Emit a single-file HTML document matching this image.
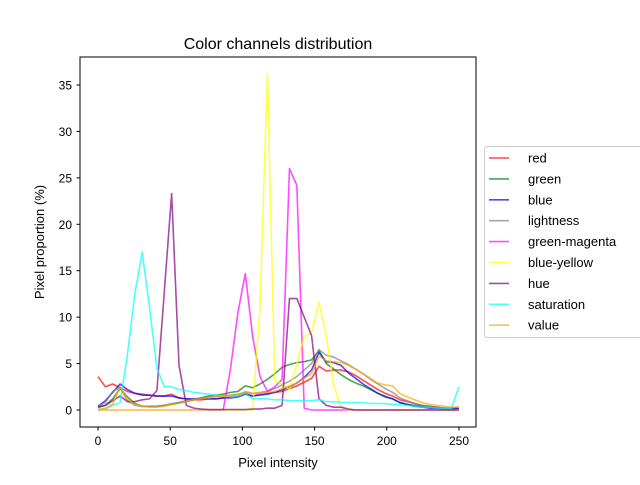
<!DOCTYPE html>
<html><head><meta charset="utf-8"><style>
body{margin:0;background:#fff;}
svg{font-family:"Liberation Sans","DejaVu Sans",sans-serif;}
</style></head><body>
<svg id="chart" width="640" height="480" viewBox="0 0 640 480" xmlns="http://www.w3.org/2000/svg">
<rect width="640" height="480" fill="#fff"/>
<text x="278" y="49" font-size="16" text-anchor="middle">Color channels distribution</text>
<g id="plot"></g>
<rect x="80" y="57" width="396" height="370" fill="none" stroke="#000" stroke-width="1"/>
<text x="278" y="467" font-size="13" text-anchor="middle">Pixel intensity</text>
<text x="44" y="242" font-size="13" text-anchor="middle" transform="rotate(-90 44 242)">Pixel proportion (%)</text>
<g id="legend"></g>
</svg>
<script>
const xTicks=[0,50,100,150,200,250];
const yTicks=[0,5,10,15,20,25,30,35];
const xStep=5.1;
const seriesNames=["red","green","blue","lightness","green-magenta","blue-yellow","hue","saturation","value"];
const seriesColors=["red","green","blue","gray","magenta","yellow","purple","cyan","orange"];
const red=[3.6,2.5,2.8,2.4,2.0,1.8,1.7,1.6,1.5,1.5,1.7,1.3,1.2,1.1,1.1,1.2,1.2,1.3,1.4,1.5,1.8,1.5,1.7,1.8,1.9,2.0,2.3,2.6,3.0,3.4,4.7,4.2,4.3,4.3,4.1,3.7,3.2,2.7,2.2,1.8,1.5,1.1,0.9,0.7,0.5,0.4,0.3,0.2,0.2,0.2];
const green=[0.3,0.5,1.2,2.3,1.4,0.7,0.4,0.4,0.4,0.5,0.6,0.8,0.9,1.1,1.3,1.5,1.6,1.7,1.9,2.0,2.6,2.4,2.8,3.3,3.9,4.6,4.9,5.1,5.2,5.4,6.4,5.0,4.4,3.8,3.3,2.9,2.6,2.2,1.8,1.5,1.2,0.8,0.6,0.5,0.4,0.3,0.2,0.2,0.2,0.2];
const blue=[0.4,1.0,1.9,2.8,2.2,1.8,1.6,1.6,1.5,1.5,1.5,1.3,1.2,1.2,1.2,1.2,1.2,1.3,1.3,1.4,1.7,1.5,1.6,1.7,1.9,2.2,2.5,2.9,3.5,4.3,6.2,5.2,5.1,4.8,4.0,3.4,2.8,2.3,1.8,1.4,1.2,0.8,0.6,0.4,0.3,0.2,0.2,0.1,0.1,0.2];
const lightness=[0.4,0.8,2.0,2.4,1.0,0.5,0.4,0.4,0.4,0.5,0.7,0.8,1.0,1.2,1.3,1.4,1.5,1.5,1.6,1.7,1.9,1.8,1.9,2.0,2.3,2.7,3.1,3.6,4.3,5.0,6.5,5.9,5.7,5.3,4.9,4.4,3.9,3.3,2.8,2.3,1.9,1.3,1.0,0.7,0.5,0.4,0.3,0.2,0.2,0.3];
const greenMagenta=[0,0,0,0,0,0,0,0,0,0,0,0,0,0,0,0,0,0,4.5,10.5,14.7,7.9,3.6,2.0,2.5,3.3,26.0,24.2,0.2,0,0,0,0,0,0,0,0,0,0,0,0,0,0,0,0,0,0,0,0,0];
const blueYellow=[0,0,0,0,0,0,0,0,0,0,0,0,0,0,0,0,0,0,0,0,0,0,11.1,36.2,3.2,2.8,2.2,5.0,7.9,8.3,11.6,7.9,2.7,0.3,0,0,0,0,0,0,0,0,0,0,0,0,0,0,0,0];
const hue=[0.3,0.5,1.0,1.5,0.9,0.9,1.1,1.2,2.1,12.7,23.3,4.8,0.5,0.2,0.1,0.05,0.05,0.05,0.05,0.05,0.05,0.1,0.1,0.2,0.2,0.5,12.0,12.0,10.0,8.0,1.2,0.5,0.3,0.3,0.1,0,0,0,0,0,0,0,0,0,0,0,0,0,0,0];
const saturation=[0.1,0.1,0.5,0.8,6.0,12.5,17.0,11.0,4.5,2.5,2.5,2.2,2.1,1.9,1.8,1.7,1.6,1.5,1.4,1.5,1.8,1.2,1.2,1.2,1.1,1.1,1.0,1.0,1.0,1.0,1.1,0.9,0.9,0.8,0.8,0.8,0.8,0.7,0.7,0.7,0.6,0.6,0.5,0.4,0.3,0.3,0.2,0.2,0.2,2.5];
const value=[0,0.2,0.6,2.5,1.2,0.6,0.4,0.3,0.3,0.4,0.6,0.7,0.9,1.1,1.2,1.3,1.4,1.5,1.5,1.6,2.0,1.8,1.8,1.9,2.0,2.3,2.6,2.9,3.4,3.9,5.8,5.3,5.2,5.1,4.8,4.4,3.9,3.4,2.9,2.7,2.6,1.8,1.4,1.1,0.8,0.6,0.5,0.4,0.3,0.3];
const seriesData=[red,green,blue,lightness,greenMagenta,blueYellow,hue,saturation,value];

const NS="http://www.w3.org/2000/svg";
function xs(v){return 98+v*(361/250);}
function ys(v){return 410-v*(325/35);}
const plot=document.getElementById('plot');
const svg=document.getElementById('chart');
xTicks.forEach(t=>{
  const l=document.createElementNS(NS,'line');
  
  
  l.setAttribute('x1',xs(t));l.setAttribute('x2',xs(t));l.setAttribute('y1',427);l.setAttribute('y2',430.5);l.setAttribute('stroke','#000');
  svg.appendChild(l);
  const tx=document.createElementNS(NS,'text');
  
  
  tx.setAttribute('x',xs(t));tx.setAttribute('y',445);tx.setAttribute('font-size','12');tx.setAttribute('text-anchor','middle');
  tx.textContent=t;svg.appendChild(tx);
});
yTicks.forEach(t=>{
  const l=document.createElementNS(NS,'line');
  
  
  l.setAttribute('x1',76.5);l.setAttribute('x2',80);l.setAttribute('y1',ys(t));l.setAttribute('y2',ys(t));l.setAttribute('stroke','#000');
  svg.appendChild(l);
  const tx=document.createElementNS(NS,'text');
  
  
  tx.setAttribute('x',72);tx.setAttribute('y',ys(t)+4.5);tx.setAttribute('font-size','12');tx.setAttribute('text-anchor','end');
  tx.textContent=t;svg.appendChild(tx);
});
seriesData.forEach((arr,k)=>{
  const p=document.createElementNS(NS,'polyline');
  
  
  p.setAttribute('points',arr.map((v,i)=>xs(i*xStep).toFixed(2)+','+ys(v).toFixed(2)).join(' '));
  p.setAttribute('fill','none');p.setAttribute('stroke',seriesColors[k]);p.setAttribute('stroke-width','1.6');p.setAttribute('stroke-opacity','0.7');p.setAttribute('stroke-linejoin','round');
  plot.appendChild(p);
});
const lg=document.getElementById('legend');
const box=document.createElementNS(NS,'rect');


box.setAttribute('x',484.5);box.setAttribute('y',146.5);box.setAttribute('width',160);box.setAttribute('height',191);box.setAttribute('rx',3);box.setAttribute('fill','#fff');box.setAttribute('stroke','#ccc');
lg.appendChild(box);
seriesNames.forEach((n,k)=>{
  const y=158+k*20.9;
  const l=document.createElementNS(NS,'line');
  
  
  l.setAttribute('x1',489);l.setAttribute('x2',509);l.setAttribute('y1',y);l.setAttribute('y2',y);l.setAttribute('stroke',seriesColors[k]);l.setAttribute('stroke-width','1.6');l.setAttribute('stroke-opacity','0.7');
  lg.appendChild(l);
  const t=document.createElementNS(NS,'text');
  
  
  t.setAttribute('x',528);t.setAttribute('y',y+4.5);t.setAttribute('font-size','13');
  t.textContent=n;lg.appendChild(t);
});
</script>
</body></html>
